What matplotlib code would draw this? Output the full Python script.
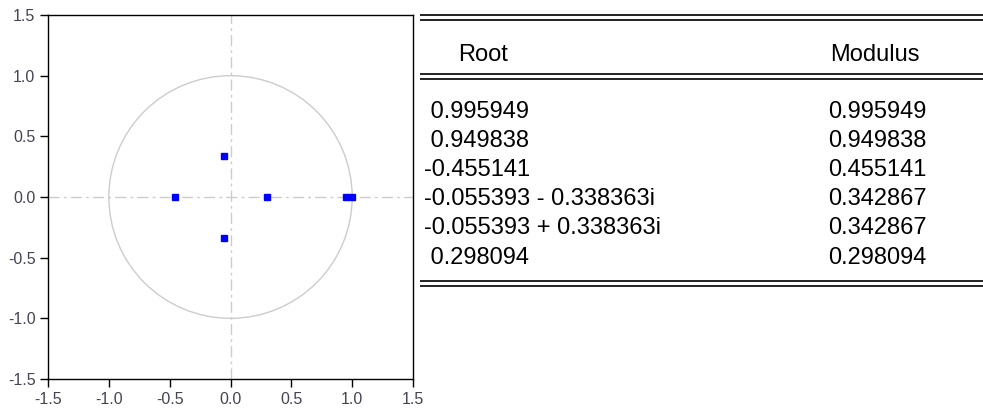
import numpy as np
import matplotlib.pyplot as plt
from matplotlib.patches import Circle

plt.rcParams['font.family'] = ['Liberation Sans', 'DejaVu Sans']

# AR characteristic roots (real, imaginary)
root_re = [0.995949, 0.949838, -0.455141, -0.055393, -0.055393, 0.298094]
root_im = [0.0, 0.0, 0.0, -0.338363, 0.338363, 0.0]
root_labels = [' 0.995949', ' 0.949838', '-0.455141',
               '-0.055393 - 0.338363i', '-0.055393 + 0.338363i', ' 0.298094']
ticks = [-1.5, -1.0, -0.5, 0.0, 0.5, 1.0, 1.5]

moduli = np.hypot(root_re, root_im)

W, H = 983, 413
fig = plt.figure(figsize=(W / 100, H / 100), dpi=100)

# unit circle plot
ax = fig.add_axes([48 / W, 1 - 379 / H, 365 / W, 364 / H])
ax.set_xlim(-1.5, 1.5)
ax.set_ylim(-1.5, 1.5)
ax.add_patch(Circle((0, 0), 1.0, fill=False, ec='#cccccc', lw=1.0))
ax.axhline(0, color='#cccccc', lw=1.0, ls=(0, (8, 3, 2, 3)))
ax.axvline(0, color='#cccccc', lw=1.0, ls=(0, (8, 3, 2, 3)))
ax.plot(root_re, root_im, 's', color='blue', ms=4, mec='blue', zorder=3)
ax.set_xticks(ticks)
ax.set_yticks(ticks)
ax.set_xticklabels([f'{t:.1f}' for t in ticks])
ax.set_yticklabels([f'{t:.1f}' for t in ticks])
ax.tick_params(direction='out', length=6, width=1, labelsize=11.5,
               labelcolor='#444455', pad=3)
for s in ax.spines.values():
    s.set_linewidth(1.0)

# roots table
tb = fig.add_axes([420 / W, 0, 563 / W, 1])
tb.set_xlim(0, 563)
tb.set_ylim(H, 0)
tb.axis('off')
for y in (15, 20, 74, 79, 281, 286):
    tb.plot([0, 563], [y, y], color='#222222', lw=1.4, solid_capstyle='butt')
tb.text(38, 61, 'Root', fontsize=17, va='baseline', ha='left')
tb.text(410, 61, 'Modulus', fontsize=17, va='baseline', ha='left')
row_y = [118, 147, 176, 205, 234, 264]
for y, lab, m in zip(row_y, root_labels, moduli):
    tb.text(4, y, lab, fontsize=17, va='baseline', ha='left')
    tb.text(408, y, f'{m:.6f}', fontsize=17, va='baseline', ha='left')

fig.savefig('out.png', dpi=100)
